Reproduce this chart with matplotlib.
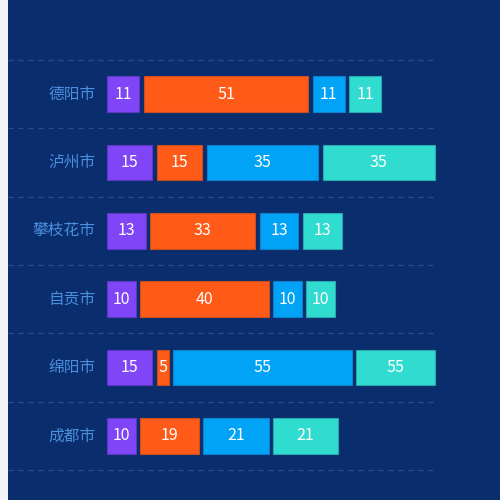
import matplotlib
matplotlib.use("Agg")
import matplotlib.pyplot as plt
import numpy as np

plt.rcParams['font.family'] = ['Noto Sans CJK SC', 'DejaVu Sans']

cities = ['德阳市', '泸州市', '攀枝花市', '自贡市', '绵阳市', '成都市']
s1 = [11, 15, 13, 10, 15, 10]
s2 = [51, 15, 33, 40, 5, 19]
s3 = [11, 35, 13, 10, 55, 21]
s4 = [11, 35, 13, 10, 55, 21]
series = [s1, s2, s3, s4]
colors = ['#7f45f6', '#ff5a17', '#00a3f5', '#2fdccf']
edges = ['#5a3bc0', '#c8501e', '#1180c8', '#2aa8b0']

bg = '#0a2d6e'
fig = plt.figure(figsize=(5, 5), dpi=100, facecolor=bg)
fig.patches.append(plt.Rectangle((0, 0), 8 / 500, 1, transform=fig.transFigure,
                                 facecolor='#f2f4f8', edgecolor='none', zorder=0))

ax = fig.add_axes([8 / 500, 30 / 500, 429 / 500, 410 / 500])
ax.set_facecolor(bg)
xmax = 100
px_per_unit = 3.32
ax.set_xlim(-99 / px_per_unit, 330 / px_per_unit)
n = len(cities)
ax.set_ylim(n - 0.5, -0.5)

gap = 4.5 / px_per_unit
ypos = np.arange(n)
cum = np.zeros(n)
for vals, c, ec in zip(series, colors, edges):
    vals = np.array(vals, dtype=float)
    widths = np.minimum(cum + vals, xmax) - cum - gap
    ax.barh(ypos, widths, left=cum, height=0.52, color=c, edgecolor=ec,
            linewidth=0.8, zorder=3)
    for y, l, w, v in zip(ypos, cum, widths, vals):
        ax.text(l + w / 2, y, f'{int(v)}', color='white', fontsize=11.5,
                ha='center', va='center', zorder=4)
    cum = cum + vals

for y, name in zip(ypos, cities):
    ax.annotate(name, xy=(0, y), xytext=(-8, 0), textcoords='offset points',
                ha='right', va='center', color='#4a8fdc', fontsize=11.3)

for b in np.arange(-0.5, n, 1.0):
    ax.axhline(b, color='#24508e', linestyle=(0, (4, 4)), linewidth=0.9,
               zorder=1, clip_on=False)

for s in ax.spines.values():
    s.set_visible(False)
ax.set_xticks([])
ax.set_yticks([])

fig.savefig('out.png', dpi=100, facecolor=bg)
